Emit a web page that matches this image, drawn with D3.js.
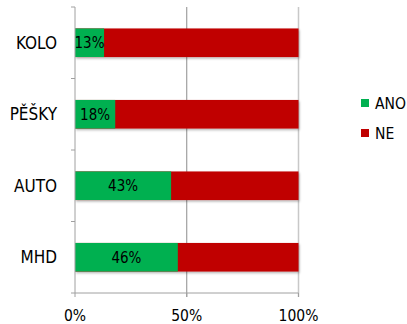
<!DOCTYPE html>
<html><head><meta charset="utf-8">
<script src="https://cdn.jsdelivr.net/npm/d3@7"></script>
<style>body{margin:0;background:#fff}svg{display:block}text{font-family:"DejaVu Sans Condensed","DejaVu Sans",sans-serif}</style>
</head><body>
<script>
const categories = ["KOLO", "PĚŠKY", "AUTO", "MHD"];
const ano = [13, 18, 43, 46];
const ne = [87, 82, 57, 54];
const xTicks = [0, 50, 100];
const seriesNames = ["ANO", "NE"];
const colors = ["#00B050", "#C00000"];

const W = 407, H = 324;
const svg = d3.select("body").append("svg").attr("width", W).attr("height", H);
const defs = svg.append("defs");
const f = defs.append("filter").attr("id", "sh").attr("x", "-5%").attr("y", "-20%").attr("width", "115%").attr("height", "160%");
f.append("feDropShadow").attr("dx", 1).attr("dy", 1.5).attr("stdDeviation", 1).attr("flood-color", "#000").attr("flood-opacity", 0.3);

const x = d3.scaleLinear().domain([0, 100]).range([75, 298.5]);
const y = d3.scaleBand().domain(categories).range([7, 293]).paddingInner(0.6).paddingOuter(0.3);
const yAxisBand = d3.scaleBand().domain(categories).range([7, 293]);

// gridlines
svg.append("g").selectAll("line").data(xTicks.slice(1)).join("line")
  .attr("x1", d => x(d)).attr("x2", d => x(d)).attr("y1", 7).attr("y2", 297)
  .attr("stroke", (d, i) => i === 0 ? "#8c8c8c" : "#c8c8c8").attr("stroke-width", (d, i) => i === 0 ? 1 : 1.5);

// bars
const rows = categories.map((c, i) => ({c, a: ano[i], n: ne[i]}));
const g = svg.append("g");
rows.forEach(r => {
  g.append("rect").attr("x", x(0)).attr("y", y(r.c)).attr("width", x(r.a + r.n) - x(0)).attr("height", y.bandwidth())
    .attr("fill", colors[1]).attr("filter", "url(#sh)");
  g.append("rect").attr("x", x(0)).attr("y", y(r.c)).attr("width", x(r.a) - x(0)).attr("height", y.bandwidth())
    .attr("fill", colors[0]);
  g.append("text").attr("x", (x(0) + x(r.a)) / 2).attr("y", y(r.c) + y.bandwidth() / 2).attr("dy", "0.36em")
    .attr("text-anchor", "middle").attr("font-size", 15).attr("fill", "#000").text(r.a + "%");
});

// y axis
const ya = svg.append("g");
ya.append("line").attr("x1", 75).attr("x2", 75).attr("y1", 7).attr("y2", 293).attr("stroke", "#a0a0a0");
const yTickPos = categories.map(c => yAxisBand(c)).concat([293]);
ya.selectAll(".t").data(yTickPos).join("line").attr("class", "t")
  .attr("x1", 71).attr("x2", 75).attr("y1", d => d).attr("y2", d => d).attr("stroke", "#a0a0a0");
ya.selectAll("text").data(categories).join("text")
  .attr("x", 57).attr("y", d => y(d) + y.bandwidth() / 2).attr("dy", "0.36em")
  .attr("text-anchor", "end").attr("font-size", 17).attr("fill", "#000").text(d => d);

// x axis
const xa = svg.append("g");
xa.append("line").attr("x1", 75).attr("x2", 298.5).attr("y1", 293).attr("y2", 293).attr("stroke", "#a0a0a0");
xa.selectAll(".t").data(xTicks).join("line").attr("class", "t")
  .attr("x1", d => x(d)).attr("x2", d => x(d)).attr("y1", 293).attr("y2", 297).attr("stroke", "#a0a0a0");
xa.selectAll("text").data(xTicks).join("text")
  .attr("x", d => x(d)).attr("y", 321).attr("text-anchor", "middle").attr("font-size", 15.5).attr("fill", "#000")
  .text(d => d + "%");

// legend
const lg = svg.append("g");
seriesNames.forEach((s, i) => {
  const cy = 103 + i * 30;
  lg.append("rect").attr("x", 361).attr("y", cy - 4).attr("width", 8).attr("height", 8).attr("fill", colors[i]);
  lg.append("text").attr("x", 375).attr("y", cy).attr("dy", "0.36em").attr("font-size", 15.5).attr("fill", "#000").text(s);
});
</script>
</body></html>
